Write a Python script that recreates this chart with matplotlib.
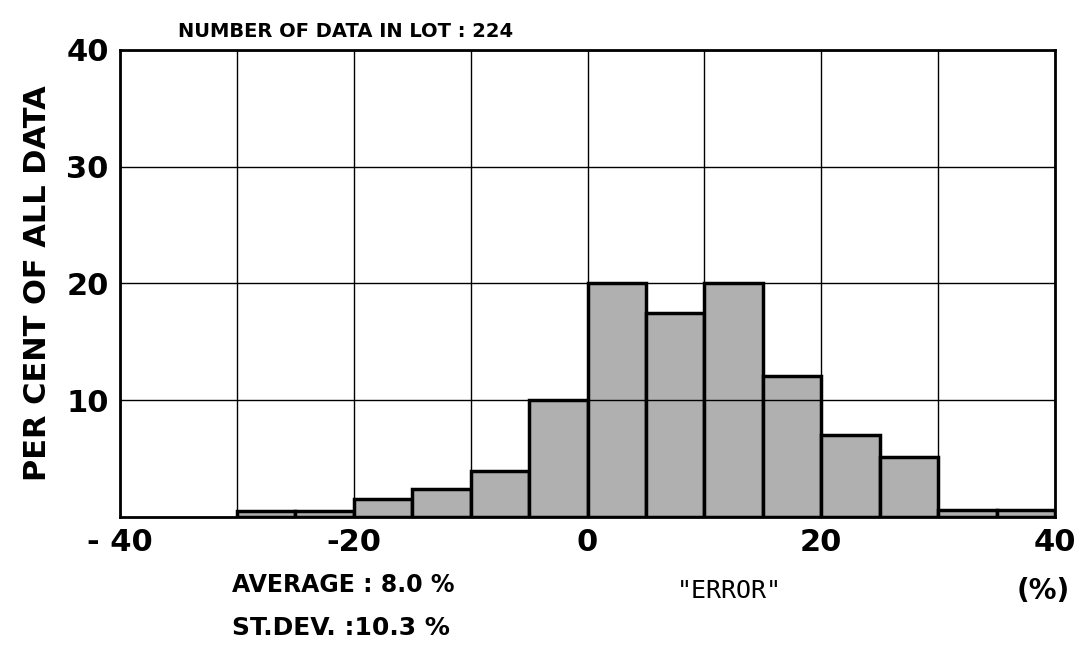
import matplotlib
matplotlib.use("Agg")
import matplotlib.pyplot as plt
import numpy as np

bin_left = [-30, -25, -20, -15, -10, -5, 0, 5, 10, 15, 20, 25, 30, 35]
percent = [0.5, 0.5, 1.5, 2.4, 3.9, 10.0, 20.0, 17.5, 20.0, 12.1, 7.0, 5.1, 0.6, 0.6]
bin_width = 5
xticks = [-40, -20, 0, 20, 40]
xtick_labels = ["- 40", "-20", "0", "20", "40"]
yticks = [10, 20, 30, 40]
title_text = "NUMBER OF DATA IN LOT : 224"
avg_text = "AVERAGE : 8.0 %"
sd_text = "ST.DEV. :10.3 %"

fig = plt.figure(figsize=(10.77, 6.49), dpi=100)
ax = fig.add_axes([0.1114, 0.2034, 0.8682, 0.7196])

ax.bar(bin_left, percent, width=bin_width, align="edge", color="#b0b0b0",
       edgecolor="black", linewidth=2.5, zorder=2)

for gx in range(-40, 41, 10):
    ax.axvline(gx, color="black", linewidth=1.0, zorder=3)
for gy in range(10, 41, 10):
    ax.axhline(gy, color="black", linewidth=1.0, zorder=3)

ax.set_xlim(-40, 40)
ax.set_ylim(0, 40)
ax.set_xticks(xticks)
ax.set_xticklabels(xtick_labels)
ax.set_yticks(yticks)
ax.tick_params(axis="both", length=0, labelsize=22, pad=8)
for lab in ax.get_xticklabels() + ax.get_yticklabels():
    lab.set_fontweight("bold")
for sp in ax.spines.values():
    sp.set_linewidth(2.0)
    sp.set_zorder(4)

ax.set_ylabel("PER CENT OF ALL DATA", fontsize=22, fontweight="bold", labelpad=10)

fig.text(0.165, 0.952, title_text, fontsize=14, fontweight="bold",
         ha="left", va="center")
fig.text(0.215, 0.098, avg_text, fontsize=17, fontweight="bold",
         ha="left", va="center")
fig.text(0.215, 0.032, sd_text, fontsize=18, fontweight="bold",
         ha="left", va="center")
fig.text(0.677, 0.09, '"ERROR"', fontsize=18, family="DejaVu Sans Mono",
         ha="center", va="center")
fig.text(0.969, 0.09, "(%)", fontsize=20, fontweight="bold",
         ha="center", va="center")

fig.savefig("out.png", dpi=100, facecolor="white")
